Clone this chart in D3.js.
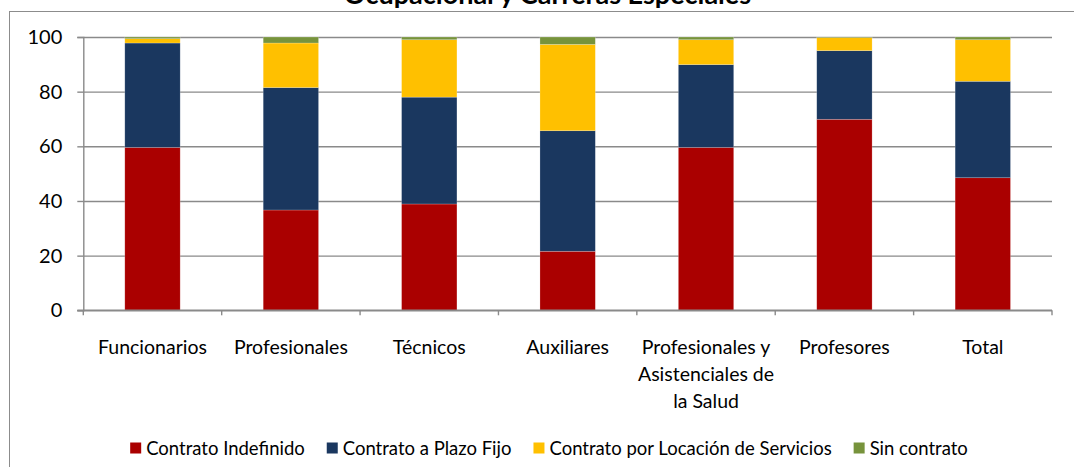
<!DOCTYPE html>
<html>
<head>
<meta charset="utf-8">
<script src="https://cdn.jsdelivr.net/npm/d3@7"></script>
<style>
  html, body { margin: 0; padding: 0; background: #fff; }
  svg { display: block; }
  text { font-family: Lato, "Open Sans", "Noto Sans", sans-serif; fill: #000; }
</style>
</head>
<body>
<svg id="chart" width="1074" height="467"></svg>
<script>
const title = "Ocupacional y Carreras Especiales";
const categories = [
  ["Funcionarios"],
  ["Profesionales"],
  ["Técnicos"],
  ["Auxiliares"],
  ["Profesionales y", "Asistenciales de", "la Salud"],
  ["Profesores"],
  ["Total"]
];
const seriesNames = [
  "Contrato Indefinido",
  "Contrato a Plazo Fijo",
  "Contrato por Locación de Servicios",
  "Sin contrato"
];
const seriesColors = ["#AA0000", "#1A375F", "#FFC000", "#77933C"];
const indefinido   = [59.6, 36.7, 38.9, 21.6, 59.6, 69.9, 48.5];
const plazoFijo    = [38.2, 44.8, 39.1, 44.1, 30.3, 25.1, 35.3];
const locacion     = [ 1.6, 16.3, 21.0, 31.6,  9.1,  4.8, 15.2];
const sinContrato  = [ 0.6,  2.2,  1.0,  2.7,  1.0,  0.2,  1.0];
const yTicks = [0, 20, 40, 60, 80, 100];

const svg = d3.select("#chart");
const axisFont = 19.5;
const legendFont = 18.5;

// chart border (cut by the frame on the right and bottom)
svg.append("rect")
  .attr("x", 9.5).attr("y", 11.5)
  .attr("width", 1074).attr("height", 470)
  .attr("fill", "none").attr("stroke", "#8c8c8c").attr("stroke-width", 1);

// title (mostly cut off at the top, as in the reference)
svg.append("text")
  .attr("x", 547.5).attr("y", 3.5)
  .attr("text-anchor", "middle")
  .attr("font-weight", "bold")
  .attr("font-size", 27)
  .text(title);

const plot = { left: 83.3, right: 1052, top: 37, bottom: 310.3 };
const catKeys = categories.map(c => c.join(" "));

const x = d3.scaleBand()
  .domain(catKeys)
  .range([plot.left, plot.right])
  .paddingInner(0.6)
  .paddingOuter(0.3);

const y = d3.scaleLinear().domain([0, 100]).range([plot.bottom, plot.top]);

// gridlines
const grid = svg.append("g")
  .attr("transform", `translate(${plot.left},0)`)
  .call(d3.axisLeft(y).tickValues(yTicks).tickSize(-(plot.right - plot.left)).tickFormat(""));
grid.select(".domain").remove();
grid.selectAll("line").attr("stroke", "#8a8a8a").attr("stroke-width", 1.4);

// stacked data
const rows = catKeys.map((k, i) => ({
  key: k,
  s0: indefinido[i], s1: plazoFijo[i], s2: locacion[i], s3: sinContrato[i]
}));
const stack = d3.stack().keys(["s0", "s1", "s2", "s3"]);
const layers = stack(rows);

svg.append("g").selectAll("g")
  .data(layers)
  .join("g")
  .attr("fill", (d, i) => seriesColors[i])
  .selectAll("rect")
  .data(d => d)
  .join("rect")
  .attr("x", d => x(d.data.key))
  .attr("width", x.bandwidth())
  .attr("y", d => y(d[1]))
  .attr("height", d => Math.max(0, y(d[0]) - y(d[1])))
  .attr("stroke", "rgba(255,255,255,0.35)")
  .attr("stroke-width", 0.6);

// y axis
const yAxis = svg.append("g")
  .attr("transform", `translate(${plot.left},0)`)
  .call(d3.axisLeft(y).tickValues(yTicks).tickSize(6).tickPadding(15).tickFormat(d3.format("d")));
yAxis.select(".domain").attr("stroke", "#8a8a8a").attr("stroke-width", 1.4);
yAxis.selectAll("line").attr("stroke", "#8a8a8a").attr("stroke-width", 1.4);
yAxis.selectAll("text")
  .attr("font-size", 20)
  .attr("font-family", "Lato, 'Open Sans', sans-serif")
  .attr("fill", "#000");

// x axis line and boundary ticks
const xAxisG = svg.append("g");
xAxisG.append("line")
  .attr("x1", plot.left - 6).attr("x2", plot.right)
  .attr("y1", y(0)).attr("y2", y(0))
  .attr("stroke", "#8a8a8a").attr("stroke-width", 1.4);
const boundaries = d3.range(catKeys.length + 1).map(i => plot.left + i * x.step());
xAxisG.selectAll("line.tick")
  .data(boundaries)
  .join("line")
  .attr("class", "tick")
  .attr("x1", d => d).attr("x2", d => d)
  .attr("y1", y(0)).attr("y2", y(0) + 5)
  .attr("stroke", "#8a8a8a").attr("stroke-width", 1.4);

// category labels
const lab = svg.append("g").selectAll("text")
  .data(categories)
  .join("text")
  .attr("text-anchor", "middle")
  .attr("font-size", axisFont)
  .attr("x", (d, i) => x(catKeys[i]) + x.bandwidth() / 2)
  .attr("y", 353.5);
lab.selectAll("tspan")
  .data(d => d)
  .join("tspan")
  .attr("x", function () { return d3.select(this.parentNode).attr("x"); })
  .attr("dy", (d, i) => i === 0 ? 0 : 27)
  .text(d => d);

// legend
const legend = svg.append("g");
const items = legend.selectAll("g")
  .data(seriesNames)
  .join("g");
items.append("rect")
  .attr("width", 11).attr("height", 11)
  .attr("y", 442.5)
  .attr("fill", (d, i) => seriesColors[i]);
items.append("text")
  .attr("font-size", legendFont)
  .attr("y", 454.5)
  .attr("x", 16)
  .text(d => d);
const widths = [];
items.each(function () {
  const w = d3.select(this).select("text").node().getComputedTextLength();
  widths.push(16 + w);
});
const gap = 22;
const total = d3.sum(widths) + gap * (widths.length - 1);
let start = 549 - total / 2;
items.attr("transform", (d, i) => {
  const t = `translate(${start},0)`;
  start += widths[i] + gap;
  return t;
});
</script>
</body>
</html>
